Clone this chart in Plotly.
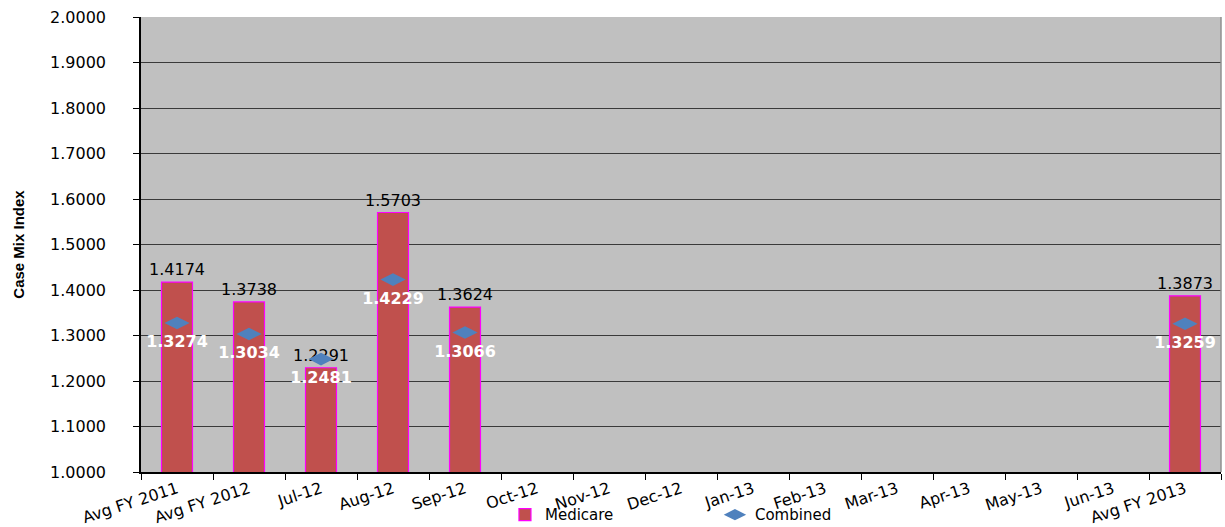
import plotly.graph_objects as go

categories = ["Avg FY 2011", "Avg FY 2012", "Jul-12", "Aug-12", "Sep-12", "Oct-12", "Nov-12",
              "Dec-12", "Jan-13", "Feb-13", "Mar-13", "Apr-13", "May-13", "Jun-13", "Avg FY 2013"]
medicare = [1.4174, 1.3738, 1.2291, 1.5703, 1.3624, None, None, None, None, None, None, None, None, None, 1.3873]
combined = [1.3274, 1.3034, 1.2481, 1.4229, 1.3066, None, None, None, None, None, None, None, None, None, 1.3259]
y_ticks = [1.0, 1.1, 1.2, 1.3, 1.4, 1.5, 1.6, 1.7, 1.8, 1.9, 2.0]

font_main = "DejaVu Sans, Liberation Sans, Arial, sans-serif"

fig = go.Figure()
fig.add_trace(go.Bar(
    x=categories, y=medicare, name="Medicare",
    marker=dict(color="#C0504D", line=dict(color="#FF00FF", width=1.2)),
    width=0.43,
    text=[f"{v:.4f}" if v is not None else "" for v in medicare],
    textposition="outside", constraintext="none",
    textfont=dict(color="black", size=16, family=font_main),
    cliponaxis=False,
))
fig.add_trace(go.Scatter(
    x=categories, y=combined, name="Combined", mode="markers+text",
    marker=dict(symbol="diamond-wide", color="#4F81BD", size=18),
    text=[f"{v:.4f}" if v is not None else "" for v in combined],
    textposition="bottom center",
    textfont=dict(color="white", size=16, family=font_main, weight="bold"),
    cliponaxis=False,
))

fig.update_layout(
    width=1225, height=527,
    margin=dict(l=141, r=4, t=17, b=55, autoexpand=False),
    paper_bgcolor="white", plot_bgcolor="#C0C0C0",
    font=dict(family=font_main, size=16, color="black"),
    showlegend=True,
    legend=dict(orientation="h", x=0.337, xanchor="left", y=-0.058, yanchor="top",
                font=dict(size=15), itemwidth=30, entrywidth=165, bgcolor="rgba(0,0,0,0)",
                borderwidth=0),
    xaxis=dict(
        type="category", range=[-0.5, 14.5], tickangle=-18, ticks="outside", tickson="boundaries",
        ticklen=6, tickcolor="black", showline=True, linecolor="black", linewidth=1.5,
        tickfont=dict(size=16), showgrid=False,
    ),
    yaxis=dict(
        range=[1.0, 2.0], tickvals=y_ticks, tickformat=".4f", ticks="outside", ticklen=6,
        tickcolor="black", showline=True, linecolor="black", linewidth=1.5,
        showgrid=True, gridcolor="#3a3a3a", gridwidth=1, zeroline=False,
        ticklabelstandoff=24,
        title=dict(text="<b>Case Mix Index</b>",
                   font=dict(size=15, family="Liberation Sans Narrow, Arial Narrow, Liberation Sans, sans-serif"),
                   standoff=22),
    ),
)
# right border
fig.add_shape(type="line", xref="paper", yref="paper", x0=1, x1=1, y0=0, y1=1,
              line=dict(color="#909090", width=1.5))

fig.write_html("out.html")
